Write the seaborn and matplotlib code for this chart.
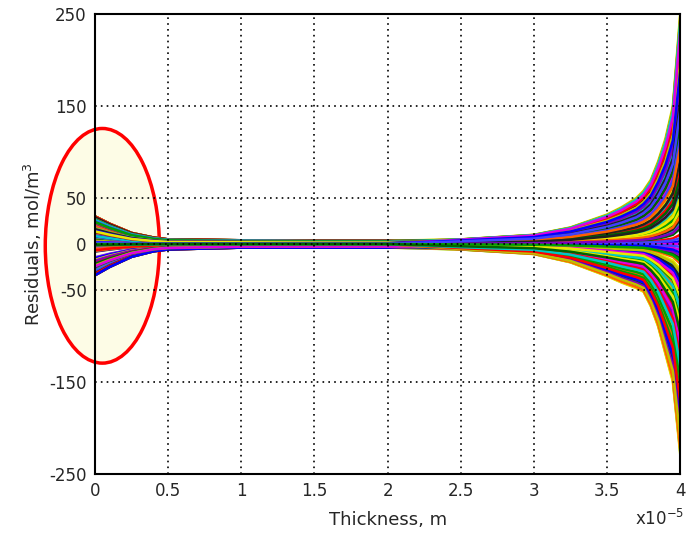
import seaborn as sns
import matplotlib.pyplot as plt
import pandas as pd
import numpy as np
from matplotlib.patches import Ellipse

sns.set_style("white")
plt.rcParams['font.family'] = ['DejaVu Sans']
plt.rcParams['axes.unicode_minus'] = False

# thickness knots (units of 1e-5 m) and envelope of the residual fan
thickness = [0.0, 0.1, 0.25, 0.4, 0.5, 1.0, 1.5, 2.0, 2.5, 3.0, 3.25, 3.5, 3.6, 3.7, 3.75, 3.8, 3.85, 3.9, 3.95, 4.0]
upper_env = [30, 22, 12, 7, 5, 4, 3.5, 3.5, 5, 10, 18, 32, 40, 50, 58, 70, 90, 115, 150, 250]
lower_env = [-34, -25, -14, -8, -6, -4, -4, -4, -6, -11, -20, -35, -42, -48, -52, -68, -90, -120, -150, -228]

# relative position of each curve inside the fan (left part / right part)
left_frac = [1.0, -0.85, 0.66, -0.5, 0.15, -1.0, 0.83, -0.17, 0.32, -0.68, 0.49, -0.0]
right_frac = [-0.92, 0.92, 0.42, -0.75, 0.25, 0.75, -0.25, 0.08, -0.58, 0.58, -0.08, -0.42]

colors = ["#0000ff", "#00a000", "#ff0000", "#00c8c8", "#e000e0", "#e8e800", "#006400",
          "#202020", "#4040ff", "#ff6000", "#8000c0", "#c0c000"]

rows = []
k = 0
for a in left_frac:
    for b in right_frac:
        fl = float(np.clip(a + 0.08 * b, -1, 1))
        fr = float(np.clip(b + 0.08 * a, -1, 1))
        for x, up, lo in zip(thickness, upper_env, lower_env):
            f = fl if x <= 2.0 else fr
            y = f * up if f >= 0 else -f * lo
            rows.append({"x": x, "y": y, "line": k})
        k += 1
df = pd.DataFrame(rows)
palette = [colors[(i * 5 + i // 12) % len(colors)] for i in range(k)]

fig = plt.figure(figsize=(6.86, 5.35), dpi=100)
ax = fig.add_axes([0.1385, 0.114, 0.853, 0.86])

ell = Ellipse((0.05, -2), 0.78, 255, facecolor="#fdfce6", edgecolor="red",
              linewidth=2.5, zorder=1, clip_on=False, transform=ax.transData)
ax.add_patch(ell)

sns.lineplot(data=df, x="x", y="y", hue="line", palette=palette, legend=False,
             estimator=None, sort=False, linewidth=1.8, ax=ax, zorder=2)

ax.set_xlim(0, 4)
ax.set_ylim(-250, 250)
ax.set_xticks([0, 0.5, 1, 1.5, 2, 2.5, 3, 3.5, 4])
ax.set_xticklabels(["0", "0.5", "1", "1.5", "2", "2.5", "3", "3.5", "4"])
ax.set_yticks([-250, -150, -50, 0, 50, 150, 250])
ax.grid(True, color="black", linestyle=(0, (1, 2.5)), linewidth=1.2)
ax.set_axisbelow(False)
ax.tick_params(direction="in", length=4, labelsize=12, pad=6)
for s in ax.spines.values():
    s.set_color("black")
    s.set_linewidth(1.5)

ax.set_xlabel("Thickness, m", fontsize=13, labelpad=8)
ax.set_ylabel("Residuals, mol/m$^3$", fontsize=13, labelpad=4)
fig.text(0.925, 0.018, "x10$^{-5}$", fontsize=12)

plt.savefig("out.png", dpi=100)
plt.close()
